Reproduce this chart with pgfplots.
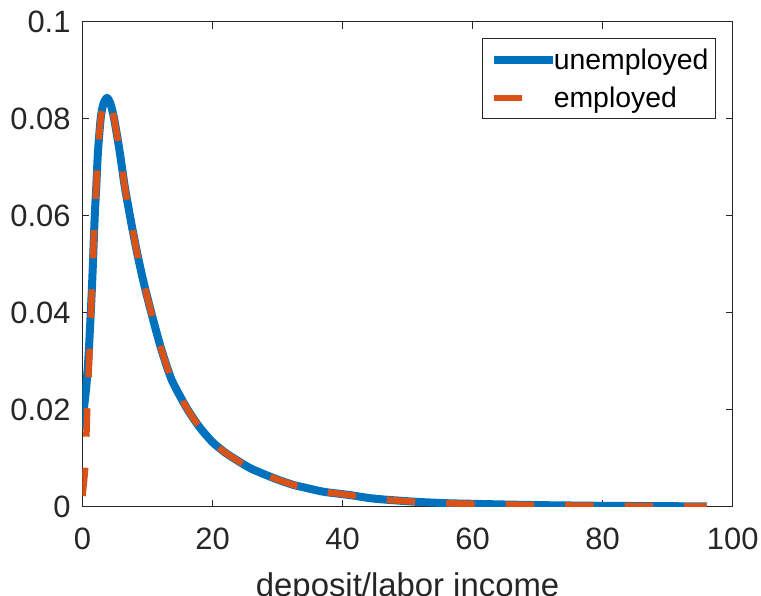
\documentclass[border=0pt]{standalone}
\usepackage{pgfplots}
\pgfplotsset{compat=1.18}
\usepackage{fontspec}
\setmainfont{Liberation Sans}
\definecolor{mblue}{rgb}{0,0.447,0.741}
\definecolor{morange}{rgb}{0.85,0.325,0.098}
\definecolor{axgray}{rgb}{0.15,0.15,0.15}
\begin{document}
\begin{tikzpicture}
\begin{axis}[
  name=ax,
  scale only axis,
  width=650.2bp, height=485bp,
  xmin=0, xmax=100, ymin=0, ymax=0.1,
  xtick={0,20,40,60,80,100},
  xticklabels={0,20,40,60,80,100},
  ytick={0,0.02,0.04,0.06,0.08,0.1},
  yticklabels={0,0.02,0.04,0.06,0.08,0.1},
  tick align=inside,
  major tick length=7bp,
  axis line style={axgray, line width=1bp},
  every tick/.style={axgray, line width=1bp},
  tick label style={font=\fontsize{31}{31}\selectfont, text=axgray, inner sep=0pt},
  xticklabel style={anchor=base, yshift=-42.3bp},
  yticklabel style={anchor=east, xshift=-11.8bp},
  xlabel={deposit/labor income},
  xlabel style={font=\fontsize{33}{33}\selectfont, text=axgray, inner sep=0pt, anchor=base, at={(axis description cs:0.5,0)}, yshift=-89.8bp},
  legend cell align=left,
  legend image code/.code={\draw[#1] (0bp,0bp) -- (59bp,0bp);},
  legend style={at={(0.6149,0.9658)}, anchor=north west, draw=axgray, line width=1bp,
    inner xsep=7bp, inner ysep=5bp, row sep=6bp, column sep=-3bp,
    font=\fontsize{28.5}{28.5}\selectfont,
    nodes={inner sep=0pt, text height=26bp, text depth=6bp}},
]
\addplot[mblue, line width=8bp, line join=round, smooth, tension=0.4] coordinates {
(0,0.0160) (0.2,0.0200) (0.58,0.0247) (0.95,0.0316) (1.46,0.0454) (1.87,0.0595)
(2.13,0.0663) (2.38,0.0732) (2.8,0.0801) (3.2,0.0830) (3.77,0.0843) (4.3,0.0831)
(4.85,0.0801) (5.72,0.0732) (6.5,0.0660) (7.5,0.0585) (8.5,0.0517) (9.5,0.0457)
(10.64,0.0397) (12,0.0330) (13.7,0.0262) (16,0.0204) (18,0.0164) (20,0.0133)
(22,0.0111) (24.2,0.0092) (26,0.0078) (28.3,0.0065) (30,0.0056) (32.4,0.0045)
(34,0.0040) (37,0.0031) (41.1,0.0024) (44,0.0018) (46.2,0.0015) (51.4,0.0010)
(56.5,0.0007) (60,0.0006) (65,0.00045) (70,0.00033) (75,0.00025) (80,0.00018)
(85,0.00014) (90,0.0001) (96,0.00008)
};
\addlegendentry{unemployed}
\addplot[morange, line width=6.5bp, dash pattern=on 28.5bp off 31bp, smooth, tension=0.4] coordinates {
(0,0.0022) (0.43,0.0082) (0.6,0.0148) (0.74,0.0206) (1.0,0.0290) (1.46,0.0454) (1.87,0.0595)
(2.13,0.0663) (2.38,0.0732) (2.8,0.0801) (3.2,0.0830) (3.77,0.0843) (4.3,0.0831)
(4.85,0.0801) (5.72,0.0732) (6.5,0.0660) (7.5,0.0585) (8.5,0.0517) (9.5,0.0457)
(10.64,0.0397) (12,0.0330) (13.7,0.0262) (16,0.0204) (18,0.0164) (20,0.0133)
(22,0.0111) (24.2,0.0092) (26,0.0078) (28.3,0.0065) (30,0.0056) (32.4,0.0045)
(34,0.0040) (37,0.0031) (41.1,0.0024) (44,0.0018) (46.2,0.0015) (51.4,0.0010)
(56.5,0.0007) (60,0.0006) (65,0.00045) (70,0.00033) (75,0.00025) (80,0.00018)
(85,0.00014) (90,0.0001) (96,0.00008)
};
\addlegendentry{employed}
\end{axis}
\pgfresetboundingbox
\path[use as bounding box] ([xshift=-82.5bp,yshift=-89.3bp]ax.south west) rectangle ([xshift=28.3bp,yshift=21.7bp]ax.north east);
\end{tikzpicture}
\end{document}
